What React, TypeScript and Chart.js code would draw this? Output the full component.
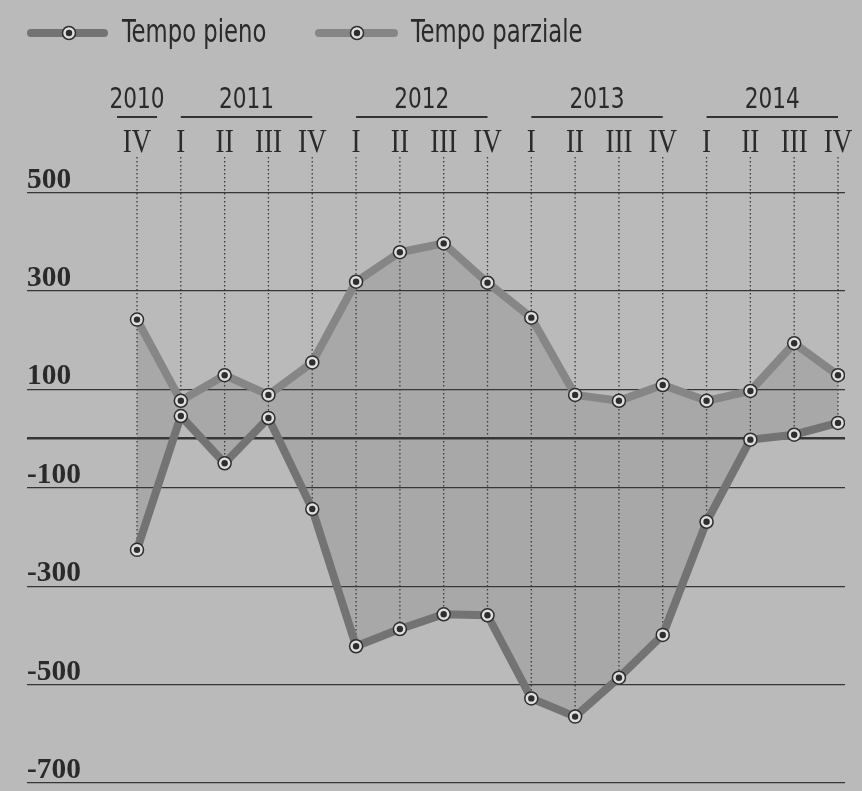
import React, { useEffect, useRef } from 'react';
import { Chart, registerables } from 'chart.js';

Chart.register(...registerables);

const quarters = ['IV', 'I', 'II', 'III', 'IV', 'I', 'II', 'III', 'IV', 'I', 'II', 'III', 'IV', 'I', 'II', 'III', 'IV'];
const yearLabels = ['2010', '2011', '2012', '2013', '2014'];
const yearFirstQuarter = [0, 1, 5, 9, 13];
const yearLastQuarter = [0, 4, 8, 12, 16];

const tempoPieno = [-226, 46, -50, 42, -143, -422, -387, -357, -359, -528, -565, -486, -399, -169, -2, 8, 32];
const tempoParziale = [242, 77, 129, 89, 155, 319, 379, 397, 317, 246, 89, 77, 109, 77, 97, 194, 129];

const yTicks = [500, 300, 100, 0, -100, -300, -500, -700];
const seriesNames = ['Tempo pieno', 'Tempo parziale'];

const BG = '#bababa';
const INK = '#2a2a2a';
const COLOR_PIENO = '#737373';
const COLOR_PARZIALE = '#868686';
const NARROW = '"Liberation Sans Narrow", "DejaVu Sans Condensed", sans-serif';
const SERIF = '"Liberation Serif", "DejaVu Serif", serif';

const toPts = (arr: number[]) => arr.map((v, i) => ({ x: i, y: v }));

function drawMarker(ctx: CanvasRenderingContext2D, x: number, y: number) {
  ctx.beginPath();
  ctx.arc(x, y, 6.5, 0, Math.PI * 2);
  ctx.fillStyle = '#dedede';
  ctx.fill();
  ctx.lineWidth = 1.5;
  ctx.strokeStyle = '#2e2e2e';
  ctx.stroke();
  ctx.beginPath();
  ctx.arc(x, y, 3.2, 0, Math.PI * 2);
  ctx.fillStyle = '#2e2e2e';
  ctx.fill();
}

function squeezedText(ctx: CanvasRenderingContext2D, text: string, x: number, y: number, sx: number) {
  ctx.save();
  ctx.translate(x, y);
  ctx.scale(sx, 1);
  ctx.fillText(text, 0, 0);
  ctx.restore();
}

const decorPlugin = {
  id: 'decor',
  beforeDatasetsDraw(chart: any) {
    const { ctx, chartArea, scales } = chart;
    const xs = scales.x;
    const ys = scales.y;
    ctx.save();
    ctx.strokeStyle = '#3a3a3a';
    ctx.lineWidth = 1.3;
    ctx.setLineDash([1.5, 2.5]);
    quarters.forEach((_, i) => {
      const x = xs.getPixelForValue(i);
      const yb = ys.getPixelForValue(Math.min(tempoPieno[i], tempoParziale[i]));
      ctx.beginPath();
      ctx.moveTo(x, chartArea.top);
      ctx.lineTo(x, yb);
      ctx.stroke();
    });
    ctx.restore();
  },
  afterDraw(chart: any) {
    const { ctx, scales, chartArea } = chart;
    const xs = scales.x;
    const ys = scales.y;
    ctx.save();
    ctx.fillStyle = INK;
    ctx.textBaseline = 'alphabetic';

    // y tick labels (above their grid lines)
    ctx.font = `bold 30px ${SERIF}`;
    ctx.textAlign = 'left';
    yTicks.forEach((v) => {
      if (v === 0) return;
      squeezedText(ctx, String(v), chartArea.left, ys.getPixelForValue(v) - 5, 0.98);
    });

    // quarter labels
    ctx.font = `33px ${SERIF}`;
    ctx.textAlign = 'center';
    quarters.forEach((q, i) => {
      squeezedText(ctx, q, xs.getPixelForValue(i), 152, 0.82);
    });

    // year labels
    ctx.strokeStyle = '#333';
    ctx.font = `29px ${NARROW}`;
    ctx.textAlign = 'center';
    yearLabels.forEach((lab, k) => {
      const x0 = xs.getPixelForValue(yearFirstQuarter[k]);
      const x1 = xs.getPixelForValue(yearLastQuarter[k]);
      const pad = yearFirstQuarter[k] === yearLastQuarter[k] ? 20 : 0;
      squeezedText(ctx, lab, (x0 + x1) / 2, 108, 0.83);
      ctx.lineWidth = 2;
      ctx.beginPath();
      ctx.moveTo(x0 - pad, 117);
      ctx.lineTo(x1 + pad, 117);
      ctx.stroke();
    });

    // legend
    const legend = [
      { x0: 27, x1: 108, cx: 69, tx: 122, color: COLOR_PIENO, name: seriesNames[0] },
      { x0: 315, x1: 398, cx: 357, tx: 411, color: COLOR_PARZIALE, name: seriesNames[1] },
    ];
    legend.forEach((l) => {
      ctx.strokeStyle = l.color;
      ctx.lineWidth = 8;
      ctx.lineCap = 'round';
      ctx.beginPath();
      ctx.moveTo(l.x0 + 4, 33);
      ctx.lineTo(l.x1 - 4, 33);
      ctx.stroke();
      drawMarker(ctx, l.cx, 33);
      ctx.fillStyle = INK;
      ctx.font = `32px ${NARROW}`;
      ctx.textAlign = 'left';
      squeezedText(ctx, l.name, l.tx, 42, 0.79);
    });
    ctx.restore();
  },
};

export default function App() {
  const ref = useRef<HTMLCanvasElement | null>(null);

  useEffect(() => {
    document.body.style.margin = '0';
    document.body.style.background = BG;
    if (!ref.current) return;
    const lineCommon = {
      borderWidth: 8,
      borderJoinStyle: 'round' as const,
      borderCapStyle: 'round' as const,
      pointRadius: 6.5,
      pointHoverRadius: 6.5,
      pointBackgroundColor: '#dedede',
      pointBorderColor: '#2e2e2e',
      pointBorderWidth: 1.5,
      tension: 0,
    };
    const dotCommon = {
      showLine: false,
      pointRadius: 3.2,
      pointHoverRadius: 3.2,
      pointBackgroundColor: '#2e2e2e',
      pointBorderWidth: 0,
      fill: false,
      order: 0,
    };
    const chart = new Chart(ref.current, {
      type: 'line',
      data: {
        datasets: [
          {
            ...lineCommon,
            label: seriesNames[0],
            data: toPts(tempoPieno),
            borderColor: COLOR_PIENO,
            backgroundColor: 'rgba(70,70,70,0.15)',
            fill: '+1',
            order: 2,
          },
          {
            ...lineCommon,
            label: seriesNames[1],
            data: toPts(tempoParziale),
            borderColor: COLOR_PARZIALE,
            backgroundColor: 'rgba(70,70,70,0.15)',
            fill: false,
            order: 1,
          },
          { ...dotCommon, label: 'd1', data: toPts(tempoPieno) },
          { ...dotCommon, label: 'd2', data: toPts(tempoParziale) },
        ],
      },
      options: {
        animation: false,
        responsive: true,
        maintainAspectRatio: false,
        layout: { padding: { left: 27, right: 17, top: 157, bottom: -4 } },
        plugins: {
          legend: { display: false },
          tooltip: { enabled: false },
        },
        scales: {
          x: {
            type: 'linear',
            display: false,
            min: -2.511,
            max: 16.16,
          },
          y: {
            type: 'linear',
            min: -700,
            max: 572.6,
            afterBuildTicks: (axis: any) => {
              axis.ticks = yTicks.map((v) => ({ value: v }));
            },
            ticks: { display: false },
            grid: {
              drawTicks: false,
              color: '#363636',
              lineWidth: (c: any) => (c.tick && c.tick.value === 0 ? 2.6 : 1.3),
            },
            border: { display: false },
          },
        },
      },
      plugins: [decorPlugin],
    });
    return () => chart.destroy();
  }, []);

  return (
    <div style={{ width: 862, height: 791, position: 'relative', background: BG }}>
      <canvas ref={ref} />
    </div>
  );
}
